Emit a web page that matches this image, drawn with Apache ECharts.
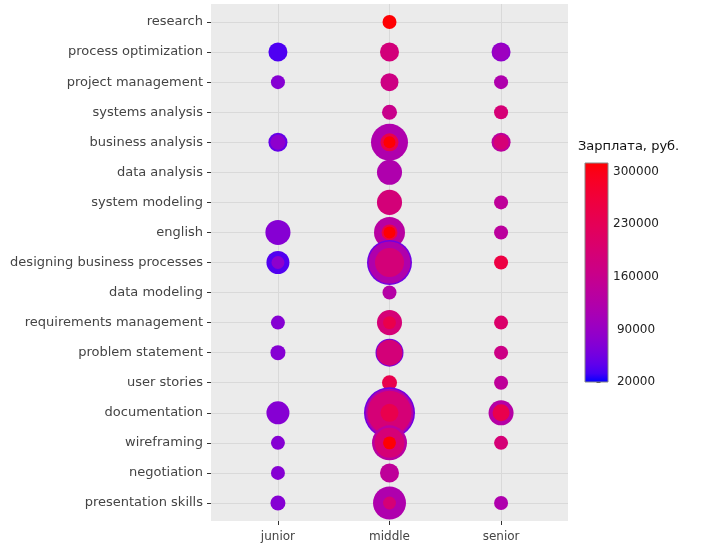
<!DOCTYPE html>
<html><head><meta charset="utf-8">
<script src="https://cdn.jsdelivr.net/npm/echarts@6/dist/echarts.min.js"></script>
<style>html,body{margin:0;padding:0;background:#fff}#c{width:714px;height:551px}</style>
</head><body><div id="c"></div>
<script>
const skills = ['research','process optimization','project management','systems analysis','business analysis','data analysis','system modeling','english','designing business processes','data modeling','requirements management','problem statement','user stories','documentation','wireframing','negotiation','presentation skills'];
const levels = ['junior','middle','senior'];
// [skill, share of vacancies (%), salary (rub.)]
const juniorPoints = [
  ['process optimization', 7.4, 36000],
  ['project management', 4.0, 72000],
  ['business analysis', 7.4, 48000],
  ['business analysis', 4.6, 80000],
  ['english', 12.8, 72000],
  ['designing business processes', 10.8, 38000],
  ['designing business processes', 3.4, 80000],
  ['requirements management', 4.0, 72000],
  ['problem statement', 4.6, 72000],
  ['documentation', 10.8, 72000],
  ['wireframing', 4.0, 72000],
  ['negotiation', 4.0, 72000],
  ['presentation skills', 4.6, 72000]
];
const middlePoints = [
  ['research', 4.0, 310000],
  ['process optimization', 7.4, 185000],
  ['project management', 6.6, 172000],
  ['systems analysis', 4.6, 162000],
  ['business analysis', 27.9, 120000],
  ['business analysis', 6.6, 242000],
  ['business analysis', 2.9, 310000],
  ['data analysis', 12.8, 120000],
  ['system modeling', 12.8, 187000],
  ['english', 19.6, 135000],
  ['english', 5.2, 245000],
  ['english', 2.9, 310000],
  ['designing business processes', 41.3, 55000],
  ['designing business processes', 36.0, 122000],
  ['designing business processes', 17.2, 187000],
  ['data modeling', 4.0, 130000],
  ['requirements management', 12.8, 190000],
  ['requirements management', 3.4, 245000],
  ['problem statement', 16.0, 60000],
  ['problem statement', 13.8, 187000],
  ['user stories', 4.6, 242000],
  ['documentation', 53.1, 55000],
  ['documentation', 47.0, 122000],
  ['documentation', 39.5, 190000],
  ['documentation', 6.6, 242000],
  ['wireframing', 25.0, 135000],
  ['wireframing', 18.4, 190000],
  ['wireframing', 3.4, 310000],
  ['negotiation', 7.4, 145000],
  ['presentation skills', 22.2, 120000],
  ['presentation skills', 3.4, 190000]
];
const seniorPoints = [
  ['process optimization', 7.4, 82000],
  ['process optimization', 5.2, 97000],
  ['project management', 4.0, 120000],
  ['systems analysis', 4.0, 190000],
  ['business analysis', 7.4, 140000],
  ['business analysis', 4.6, 190000],
  ['system modeling', 4.0, 145000],
  ['english', 4.0, 140000],
  ['designing business processes', 4.0, 255000],
  ['requirements management', 4.0, 205000],
  ['problem statement', 4.0, 170000],
  ['user stories', 4.0, 145000],
  ['documentation', 12.8, 130000],
  ['documentation', 5.9, 242000],
  ['wireframing', 4.0, 190000],
  ['presentation skills', 4.0, 120000]
];
const salaryTicks = [20000, 90000, 160000, 230000, 300000];
const salaryMin = 20000;
const salaryMax = 311600;
const legendTitle = 'Зарплата, руб.';

// ---- Lab colour interpolation (blue -> red) ----
function s2l(c){c/=255;return c<=0.04045?c/12.92:Math.pow((c+0.055)/1.055,2.4);}
function l2s(c){c=Math.max(0,Math.min(1,c));return Math.round(255*(c<=0.0031308?12.92*c:1.055*Math.pow(c,1/2.4)-0.055));}
function rgb2lab(rgb){const r=s2l(rgb[0]),g=s2l(rgb[1]),b=s2l(rgb[2]);
  const X=(0.4124*r+0.3576*g+0.1805*b)/0.95047,Y=(0.2126*r+0.7152*g+0.0722*b),Z=(0.0193*r+0.1192*g+0.9505*b)/1.08883;
  const f=t=>t>0.008856?Math.cbrt(t):7.787*t+16/116;const fx=f(X),fy=f(Y),fz=f(Z);
  return [116*fy-16,500*(fx-fy),200*(fy-fz)];}
function lab2rgb(lab){const fy=(lab[0]+16)/116,fx=fy+lab[1]/500,fz=fy-lab[2]/200;
  const fi=t=>t*t*t>0.008856?t*t*t:(t-16/116)/7.787;
  const X=0.95047*fi(fx),Y=fi(fy),Z=1.08883*fi(fz);
  const r=3.2406*X-1.5372*Y-0.4986*Z,g=-0.9689*X+1.8758*Y+0.0415*Z,b=0.0557*X-0.2040*Y+1.0570*Z;
  return 'rgb('+l2s(r)+','+l2s(g)+','+l2s(b)+')';}
const labA=rgb2lab([0,0,255]),labB=rgb2lab([255,0,0]);
const NSTOP=24;
const colorStops=[];
for(let i=0;i<=NSTOP;i++){const t=i/NSTOP;colorStops.push(lab2rgb([0,1,2].map(k=>labA[k]+(labB[k]-labA[k])*t)));}
const gradStops=colorStops.map((c,i)=>({offset:i/NSTOP,color:c}));

// ---- build scatter data: cell order top->bottom, larger layers first ----
const all=[];
[juniorPoints,middlePoints,seniorPoints].forEach((arr,li)=>{
  arr.forEach(p=>all.push([li+1, skills.indexOf(p[0])+1, p[2], p[1]]));
});
all.sort((a,b)=>(a[1]-b[1])||(a[0]-b[0])||(b[3]-a[3]));

const yTicks=skills.map((s,i)=>i+1);
const xTicks=levels.map((s,i)=>i+1);
const FONT='DejaVu Sans';

const chart=echarts.init(document.getElementById('c'),null,{renderer:'canvas'});
chart.setOption({
  animation:false,
  backgroundColor:'#ffffff',
  grid:[
    {left:211,top:4,width:357,height:517,show:true,backgroundColor:'#ebebeb',borderWidth:0},
    {left:585,top:163,width:23,height:219,show:false}
  ],
  xAxis:[
    {type:'value',gridIndex:0,min:0.4,max:3.6,
     axisLine:{show:false},
     axisTick:{show:true,customValues:xTicks,length:4,lineStyle:{color:'#333'}},
     axisLabel:{customValues:xTicks,formatter:v=>levels[Math.round(v)-1],fontSize:12,color:'#444',fontFamily:FONT,margin:10},
     splitLine:{show:true,lineStyle:{color:'#d9d9d9',width:1}}},
    {type:'value',gridIndex:1,min:-0.5,max:0.5,show:false}
  ],
  yAxis:[
    {type:'value',gridIndex:0,inverse:true,min:0.4,max:17.6,
     axisLine:{show:false},
     axisTick:{show:true,customValues:yTicks,length:4,lineStyle:{color:'#333'}},
     axisLabel:{customValues:yTicks,formatter:v=>skills[Math.round(v)-1],fontSize:13,color:'#444',fontFamily:FONT,margin:8},
     splitLine:{show:true,lineStyle:{color:'#d9d9d9',width:1}}},
    {type:'value',gridIndex:1,min:salaryMin,max:salaryMax,position:'right',
     axisLine:{show:false},
     axisTick:{show:true,customValues:salaryTicks,length:4,lineStyle:{color:'#444'}},
     axisLabel:{customValues:salaryTicks,formatter:v=>String(Math.round(v)),align:'center',margin:28,fontSize:12,color:'#222',fontFamily:FONT},
     splitLine:{show:false}}
  ],
  visualMap:{type:'continuous',show:false,min:salaryMin,max:salaryMax,dimension:2,seriesIndex:0,inRange:{color:colorStops}},
  graphic:[{type:'text',left:578,top:140,style:{text:legendTitle,fontSize:13,fontFamily:FONT,fill:'#111'}}],
  series:[
    {type:'scatter',xAxisIndex:0,yAxisIndex:0,data:all,symbol:'circle',
     symbolSize:v=>7*Math.sqrt(v[3]),itemStyle:{opacity:1},emphasis:{disabled:true}},
    {type:'custom',xAxisIndex:1,yAxisIndex:1,silent:true,data:[[0,salaryMin,salaryMax]],
     renderItem:(params,api)=>{
       const p0=api.coord([-0.5,api.value(1)]);
       const p1=api.coord([0.5,api.value(2)]);
       return {type:'rect',shape:{x:p0[0],y:p1[1],width:p1[0]-p0[0],height:p0[1]-p1[1]},
         style:{fill:new echarts.graphic.LinearGradient(0,1,0,0,gradStops),stroke:'#888',lineWidth:1}};
     }}
  ]
});
</script></body></html>
